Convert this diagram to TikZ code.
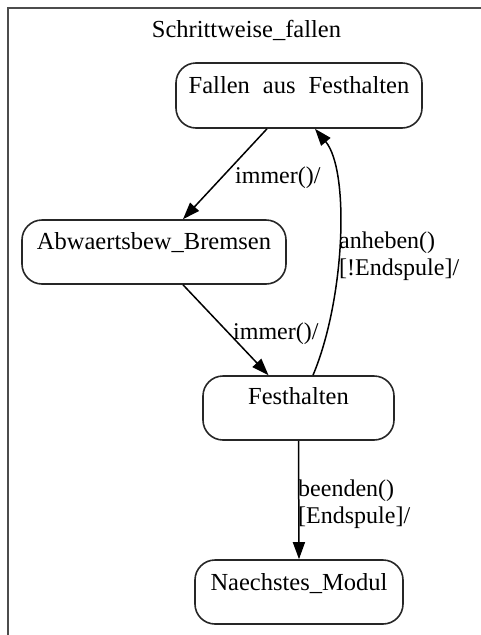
\documentclass[tikz,border=0pt]{standalone}
\usepackage{fontspec}
\setmainfont{Liberation Serif}
\usetikzlibrary{arrows.meta,calc}

\tikzset{
  state/.style={draw=black!85, line width=1.6pt, rounded corners=20pt,
    inner sep=0pt, minimum height=64pt},
  statetext/.style={anchor=base, inner sep=0pt,
    font=\fontsize{24.5}{27}\selectfont},
  lbl/.style={anchor=base west, inner sep=0pt, align=left,
    font=\fontsize{24}{27}\selectfont},
  trans/.style={draw=black, line width=1.5pt,
    -{Triangle[length=17pt,width=12pt]}},
  frame/.style={draw=black!70, line width=2pt}
}

\begin{document}
\begin{tikzpicture}[x=1pt,y=-1pt]
  \useasboundingbox (0,0) rectangle (480,635);

  % composite state frame and its title
  \draw[frame] (8,8) rectangle (500,660);
  \node[statetext] (title) at (246.5,37) {Schrittweise\_fallen};

  % states
  \node[state, minimum width=246pt, minimum height=65pt] (F) at (299,95.5) {};
  \node[statetext] (Ft) at ($(F.north)+(0,31)$) {Fallen\hspace{13pt}aus\hspace{13pt}Festhalten};

  \node[state, minimum width=264pt] (A) at (154,252) {};
  \node[statetext] (At) at ($(A.north)+(0,30)$) {Abwaertsbew\_Bremsen};

  \node[state, minimum width=191pt] (FH) at (298.5,408) {};
  \node[statetext] (FHt) at ($(FH.north)+(0,29)$) {Festhalten};

  \node[state, minimum width=208pt] (N) at (299,592) {};
  \node[statetext] (Nt) at ($(N.north)+(0,31)$) {Naechstes\_Modul};

  % transitions
  \draw[trans] ($(F.south)+(-32,0)$) -- ($(A.north)+(29,0)$);
  \draw[trans] ($(A.south)+(29,0)$) -- ($(FH.north)+(-30,0)$);
  \draw[trans] ($(FH.north)+(14.5,0)$)
      .. controls ($(FH.north)+(46.5,-76)$) and ($(F.south)+(51,42)$)
      .. ($(F.south)+(16,0)$);
  \draw[trans] (FH.south) -- (N.north);

  % transition labels (anchored on the baseline of their last line)
  \node[lbl] (l1) at (235,183) {immer()/};
  \node[lbl] (l2) at (233,339) {immer()/};
  \node[lbl] (l3) at (339,275) {anheben()\\{}[!Endspule]/};
  \node[lbl] (l4) at (298,523) {beenden()\\{}[Endspule]/};
\end{tikzpicture}
\end{document}
